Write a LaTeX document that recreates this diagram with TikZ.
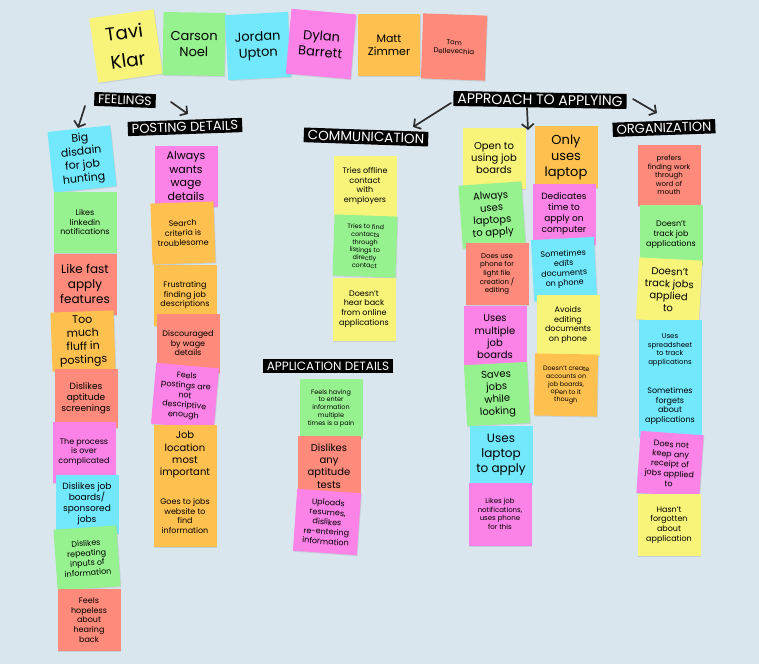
\documentclass[tikz,border=0pt]{standalone}
\usepackage{fontspec}
\setmainfont{Poppins}
\usetikzlibrary{arrows.meta,shadows}
\definecolor{bg}{RGB}{218,230,238}
\definecolor{yel}{RGB}{248,244,122}
\definecolor{grn}{RGB}{150,242,143}
\definecolor{cya}{RGB}{114,232,252}
\definecolor{pnk}{RGB}{251,130,230}
\definecolor{org}{RGB}{254,192,79}
\definecolor{sal}{RGB}{253,138,122}
\definecolor{pen}{RGB}{45,45,45}
\tikzset{
  note/.style={fill=#1, minimum width=63pt, minimum height=61pt, inner sep=1pt,
    align=center, text=black,
    drop shadow={shadow xshift=0.8pt, shadow yshift=-1pt, opacity=0.22}},
  namenote/.style={note=#1, minimum width=65pt, minimum height=65pt},
  tag/.style={fill=black, text=white, inner xsep=4pt, inner ysep=2.5pt,
    font=\fontsize{13}{15}\selectfont},
  pencil/.style={draw=pen, line width=1.7pt, line cap=round,
    -{Straight Barb[length=5pt,width=12pt,line width=1.7pt]}},
  t20/.style={font=\fontsize{18.5}{28}\selectfont},
  t13/.style={font=\fontsize{13}{16}\selectfont},
  t12/.style={font=\fontsize{12}{15}\selectfont},
  t11/.style={font=\fontsize{11}{13.5}\selectfont},
  t10/.style={font=\fontsize{10}{12.3}\selectfont},
  t9/.style={font=\fontsize{9}{11}\selectfont},
  t8/.style={font=\fontsize{8}{9.8}\selectfont},
  t7/.style={font=\fontsize{7}{8.6}\selectfont},
  t6/.style={font=\fontsize{6.4}{7.8}\selectfont},
}
\begin{document}
\begin{tikzpicture}[x=1pt,y=-1pt]
\useasboundingbox[fill=bg] (0,0) rectangle (759,664);

% names
\node[namenote=yel, rotate=8, t20] (n1) at (126,46) {Tavi\\Klar};
\node[namenote=grn, rotate=-1, t13, minimum width=62pt, minimum height=63pt] (n2) at (194,44) {Carson\\Noel};
\node[namenote=cya, rotate=3, t13, minimum width=63pt] (n3) at (258,46) {Jordan\\Upton};
\node[namenote=pnk, rotate=-5, t13] (n4) at (321,44) {Dylan\\Barrett};
\node[namenote=org, t11, minimum width=62pt, minimum height=62pt] (n5) at (389,45) {Matt\\Zimmer};
\node[namenote=sal, rotate=-2, t7, minimum width=64pt] (n6) at (454,47) {Tom\\Dellevechia};

% headers
\node[tag, rotate=-2, font=\fontsize{12.5}{15}\selectfont] (feel) at (125,100) {FEELINGS};
\node[tag, rotate=2] (post) at (185,127) {POSTING DETAILS};
\node[tag, rotate=-2, font=\fontsize{13.5}{15}\selectfont] (comm) at (366,137) {COMMUNICATION};
\node[tag, rotate=-1, font=\fontsize{14}{16}\selectfont] (appr) at (540,100) {APPROACH TO APPLYING};
\node[tag, rotate=2] (orgz) at (664,128) {ORGANIZATION};
\node[tag, font=\fontsize{12}{14}\selectfont] (appd) at (328,366) {APPLICATION DETAILS};

% arrows
\coordinate (a1s) at (85,106); \coordinate (a1e) at (78,128);
\coordinate (a2s) at (171,102); \coordinate (a2e) at (188,114);
\coordinate (a3s) at (451,103); \coordinate (a3e) at (413,127);
\coordinate (a4s) at (527,108); \coordinate (a4e) at (528,130);
\coordinate (a5s) at (633,99); \coordinate (a5e) at (657,113);
\draw[pencil] (a1s) -- (a1e);
\draw[pencil] (a2s) -- (a2e);
\draw[pencil] (a3s) -- (a3e);
\draw[pencil] (a4s) -- (a4e);
\draw[pencil] (a5s) -- (a5e);

% feelings column
\node[note=cya, rotate=6, t11] (f1) at (82,159) {Big\\disdain\\for job\\hunting};
\node[note=grn, t8] (f2) at (85,222) {Likes\\linkedin\\notifications};
\node[note=sal, t12] (f3) at (85,284) {Like fast\\apply\\features};
\node[note=org, rotate=2, t11, minimum height=59pt] (f4) at (83,341) {Too\\much\\fluff in\\postings};
\node[note=sal, t9, minimum height=59pt] (f5) at (86,398) {Dislikes\\aptitude\\screenings};
\node[note=pnk, t8] (f6) at (84,452) {The process\\is over\\complicated};
\node[note=cya, t9, minimum height=59pt] (f7) at (87,504) {Dislikes job\\boards/\\sponsored\\jobs};
\node[note=grn, rotate=4, t8] (f8) at (87,558) {Dislikes\\repeating\\inputs of\\information};
\node[note=sal, t8, minimum height=62pt] (f9) at (89,620) {Feels\\hopeless\\about\\hearing\\back};

% posting details column
\node[note=pnk, t11] (p1) at (186,176) {Always\\wants\\wage\\details};
\node[note=org, rotate=2, t8] (p2) at (183,233) {Search\\criteria is\\troublesome};
\node[note=org, t8] (p3) at (185,295) {Frustrating\\finding job\\descriptions};
\node[note=sal, t8, minimum height=59pt] (p4) at (188,343) {Discouraged\\by wage\\details};
\node[note=pnk, rotate=-5, t8] (p5) at (185,396) {Feels\\postings are\\not\\descriptive\\enough};
\node[note=org, t10] (p6) at (185,455) {Job\\location\\most\\important};
\node[note=org, t8, minimum height=62pt] (p7) at (185,516) {Goes to jobs\\website to\\find\\information};

% communication
\node[note=yel, t8] (c1) at (365,186) {Tries offline\\contact\\with\\employers};
\node[note=grn, rotate=-2, t6] (c2) at (365,246) {Tries to find\\contacts\\through\\listings to\\directly\\contact};
\node[note=yel, t8, minimum height=63pt] (c3) at (364,309) {Doesn't\\hear back\\from online\\applications};

% application details
\node[note=grn, t6, minimum height=59pt] (d1) at (331,408) {Feels having\\to enter\\information\\multiple\\times is a pain};
\node[note=sal, t10] (d2) at (329,466) {Dislikes\\any\\aptitude\\tests};
\node[note=pnk, rotate=-4, t8, minimum width=64pt, minimum height=62pt] (d3) at (327,522) {Uploads\\resumes,\\dislikes\\re-entering\\information};

% approach column 1
\node[note=yel, t10] (r1) at (494,158) {Open to\\using job\\boards};
\node[note=grn, rotate=4, t10, minimum height=63pt] (r2) at (492,215) {Always\\uses\\laptops\\to apply};
\node[note=sal, t7, minimum height=62pt] (r3) at (497,274) {Does use\\phone for\\light file\\creation /\\editing};
\node[note=pnk, t10, minimum height=62pt] (r4) at (495,337) {Uses\\multiple\\job\\boards};
\node[note=grn, rotate=3, t10] (r5) at (497,394) {Saves\\jobs\\while\\looking};
\node[note=cya, t12, minimum height=59pt] (r6) at (501,455) {Uses\\laptop\\to apply};
\node[note=pnk, t7, minimum height=63pt] (r7) at (500,514) {Likes job\\notifications,\\uses phone\\for this};

% approach column 2
\node[note=org, t13, minimum height=62pt] (s1) at (566,157) {Only\\uses\\laptop};
\node[note=pnk, t9] (s2) at (564,214) {Dedicates\\time to\\apply on\\computer};
\node[note=cya, rotate=3, t8] (s3) at (564,269) {Sometimes\\edits\\documents\\on phone};
\node[note=yel, t8] (s4) at (568,325) {Avoids\\editing\\documents\\on phone};
\node[note=org, rotate=-1, t6, minimum height=62pt] (s5) at (566,385) {Doesn't create\\accounts on\\job boards,\\open to it\\though};

% organization column
\node[note=sal, t7] (o1) at (669,175) {prefers\\finding work\\through\\word of\\mouth};
\node[note=grn, t8, minimum height=60pt] (o2) at (671,235) {Doesn't\\track job\\applications};
\node[note=yel, rotate=-3, t10, minimum height=62pt] (o3) at (669,290) {Doesn't\\track jobs\\applied\\to};
\node[note=cya, t7] (o4) at (670,350) {Uses\\spreadsheet\\to track\\applications};
\node[note=cya, t8] (o5) at (670,406) {Sometimes\\forgets\\about\\applications};
\node[note=pnk, rotate=-4, t8, minimum height=62pt] (o6) at (670,464) {Does not\\keep any\\receipt of\\jobs applied\\to};
\node[note=yel, t8, minimum height=62pt] (o7) at (669,525) {Hasn't\\forgotten\\about\\application};
\end{tikzpicture}
\end{document}
